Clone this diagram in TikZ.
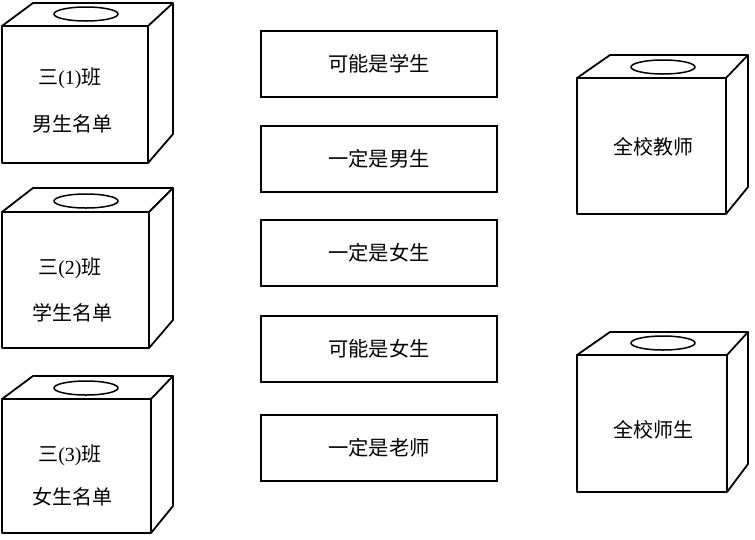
\documentclass[tikz,border=0pt]{standalone}
\usepackage{fontspec}
\setmainfont{Liberation Serif}
\newfontfamily\cjk{Noto Sans CJK SC}
\newcommand{\drawcube}[8]{%
  % front rect (#1,#2)-(#3,#4); back top y #7, back left x #5, back right x #6, back bottom y #8
  \draw[cubeline] (#1,#2) rectangle (#3,#4);
  \draw[cubeline] (#1,#2) -- (#5,#7) -- (#6,#7) -- (#3,#2);
  \draw[cubeline] (#6,#7) -- (#6,#8) -- (#3,#4);
}
\begin{document}
\begin{tikzpicture}[x=1pt,y=-1pt,
  cubeline/.style={line width=1.8pt,line join=round},
  hole/.style={line width=1.5pt},
  card/.style={draw,line width=1.5pt,minimum width=236pt,minimum height=66pt,inner sep=0pt,font=\cjk\fontsize{20.3}{24}\selectfont},
  lbl/.style={inner sep=0pt,font=\fontsize{20}{24}\selectfont}]
\useasboundingbox (0,0) rectangle (755,539);
\fill[white] (0,0) rectangle (755,539);
% left cubes
\drawcube{2}{26}{148}{163}{33}{173}{3}{134}
\draw[hole] (86,14) ellipse [x radius=32,y radius=7];
\node[lbl] (c1a) at (70,78) {{\cjk 三}(1){\cjk 班}};
\node[lbl] (c1b) at (72,124) {\cjk 男生名单};

\drawcube{2}{212}{149}{348}{33}{173}{188}{320}
\draw[hole] (86,201) ellipse [x radius=32,y radius=7];
\node[lbl] (c2a) at (70,268) {{\cjk 三}(2){\cjk 班}};
\node[lbl] (c2b) at (72,313) {\cjk 学生名单};

\drawcube{2}{399}{151}{533}{33}{173}{376}{506}
\draw[hole] (86,388) ellipse [x radius=32,y radius=7];
\node[lbl] (c3a) at (70,455) {{\cjk 三}(3){\cjk 班}};
\node[lbl] (c3b) at (72,497) {\cjk 女生名单};

% middle cards
\node[card] (m1) at (379,64) {可能是学生};
\node[card] (m2) at (379,159) {一定是男生};
\node[card] (m3) at (379,253) {一定是女生};
\node[card] (m4) at (379,349) {可能是女生};
\node[card] (m5) at (379,448) {一定是老师};

% right cubes
\drawcube{577}{78}{726}{214}{610}{748}{55}{187}
\draw[hole] (663,67) ellipse [x radius=32,y radius=7];
\node[lbl] (r1) at (653,147) {\cjk 全校教师};

\drawcube{577}{355}{727}{492}{610}{748}{332}{464}
\draw[hole] (663,343) ellipse [x radius=32,y radius=7];
\node[lbl] (r2) at (653,430) {\cjk 全校师生};
\end{tikzpicture}
\end{document}
